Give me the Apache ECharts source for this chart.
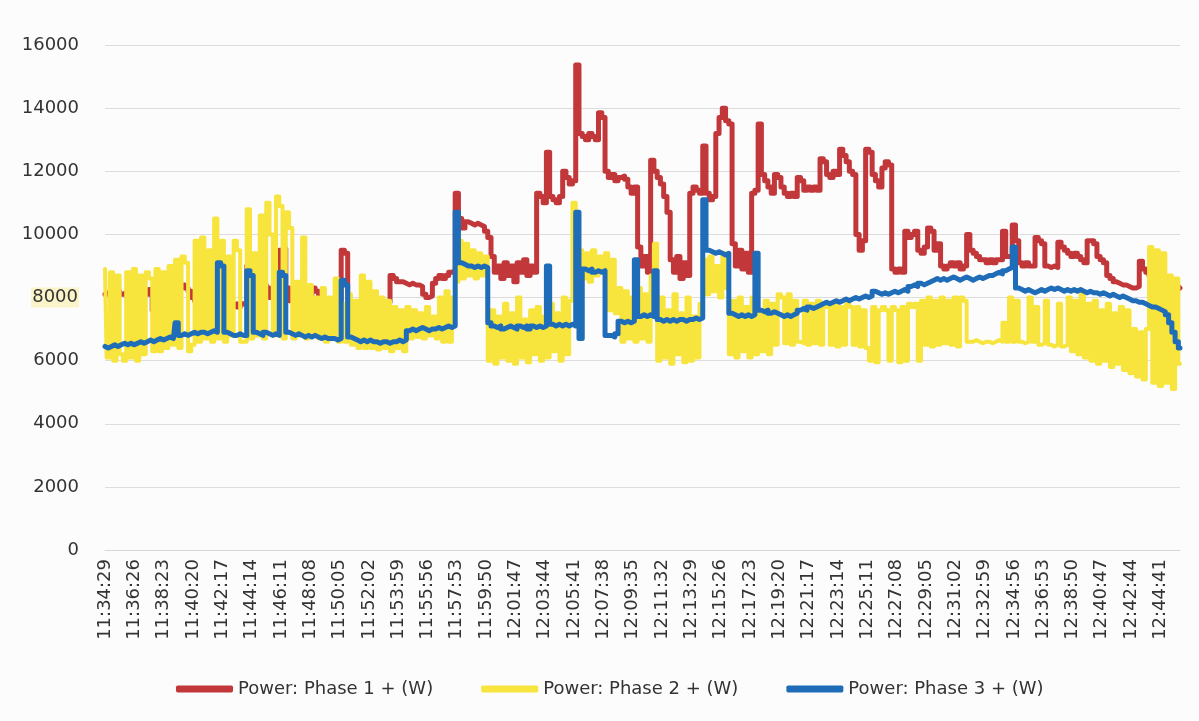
<!DOCTYPE html>
<html>
<head>
<meta charset="utf-8">
<script src="https://cdn.jsdelivr.net/npm/echarts@6/dist/echarts.min.js"></script>
<style>
html,body{margin:0;padding:0;background:#fcfcfd;}
#chart{width:1199px;height:721px;}
</style>
</head>
<body>
<div id="chart"></div>
<script>
// Sampling: one point every 13 s from 11:34:29; a tick label every 9 points (117 s)
const startTime = '11:34:29';
const stepSeconds = 13;
const tickLabels = ['11:34:29','11:36:26','11:38:23','11:40:20','11:42:17','11:44:14','11:46:11','11:48:08','11:50:05','11:52:02','11:53:59','11:55:56','11:57:53','11:59:50','12:01:47','12:03:44','12:05:41','12:07:38','12:09:35','12:11:32','12:13:29','12:15:26','12:17:23','12:19:20','12:21:17','12:23:14','12:25:11','12:27:08','12:29:05','12:31:02','12:32:59','12:34:56','12:36:53','12:38:50','12:40:47','12:42:44','12:44:41'];

const seriesNames = ['Power: Phase 1 + (W)', 'Power: Phase 2 + (W)', 'Power: Phase 3 + (W)'];

const phase1 = [
8100,8150,8050,8100,8200,8100,8150,8050,8100,8200,
8150,8100,8200,8100,8250,7600,8200,8150,8100,8200,
8300,8250,8350,8300,8400,8300,8200,8000,7900,7800,
7900,7800,8700,8600,8000,9100,9000,7900,7800,7750,
7800,7700,7800,7750,9000,8700,8100,8000,8200,8400,
8300,8000,8100,8000,9500,9550,8300,7900,7850,7900,
8100,8200,8100,8000,8300,8200,8100,7900,7800,7700,
7800,7750,7800,9500,9400,7900,7800,7850,7800,7900,
7850,7800,7900,7800,7850,7900,7800,7850,8700,8600,
8500,8500,8450,8400,8450,8400,8400,8350,8100,8000,
8050,8450,8600,8700,8600,8700,8800,8850,11300,10500,
10200,10400,10350,10300,10350,10300,10250,10100,9900,9300,
8800,9000,8600,9100,8700,9000,8500,9100,8800,9200,
8700,9000,8800,11300,11200,11000,12600,11200,11100,11000,
11200,12000,11800,11600,11700,15370,13200,13100,13000,13200,
13100,13000,13850,13700,12000,11800,11900,11700,11800,11850,
11750,11500,11300,11500,9600,9000,9300,8800,12350,12000,
11800,11600,11200,10700,9200,8800,9300,8600,9100,8700,
11300,11500,11400,11300,12800,11300,11100,11200,13200,13700,
14000,13600,13500,9700,9000,9500,8900,9400,8800,11300,
11400,13500,11900,11700,11500,11300,11900,11800,11500,11300,
11200,11300,11200,11800,11700,11400,11500,11400,11500,11400,
12400,12300,11900,11800,12000,11900,12700,12500,12300,12000,
11900,10000,9500,9800,12700,12600,11900,11700,11500,12100,
12300,12200,8900,8800,8900,8800,10100,9900,10000,10100,
9500,9400,9600,10200,10100,9500,9700,9000,8900,9000,
9100,9000,9100,8900,9000,10000,9500,9400,9300,9200,
9200,9100,9200,9100,9200,9200,10100,9300,9300,10300,
9800,9100,9000,9100,9000,9000,9900,9800,9700,9000,
8950,9000,8950,9750,9600,9500,9400,9300,9400,9300,
9200,9100,9800,9800,9700,9300,9200,9100,8700,8600,
8500,8450,8400,8400,8350,8300,8300,8350,9150,8900,
8800,8700,8600,8550,8500,8500,8450,8550,8400,8350,8300
];

const phase2 = [
8900,6100,8800,6000,8700,6200,6000,8800,6100,8900,
6000,8700,6200,8800,8600,6300,8900,6300,8800,6400,
9000,6500,9200,6400,9300,9100,6300,6500,9800,6600,
9900,6700,9500,6600,10500,6700,9800,6600,9300,6800,
9800,9500,6600,6600,10800,6700,9400,6800,10600,6700,
11000,10000,6800,11200,10900,6700,10700,10200,6700,8500,
6800,9900,6700,8400,6800,8000,6700,8300,6600,8000,
6700,8600,6600,7800,6600,8100,6500,7900,6400,8700,
6400,8500,6400,8200,6350,8000,6400,7900,6300,7700,
6400,7600,6300,7700,6700,7600,6750,7500,6700,7700,
6800,7400,6700,8000,6600,8200,6600,8000,8500,9800,
8600,9700,8700,9500,8600,9400,8700,9300,6000,7600,
5900,7400,6100,7800,6000,7500,5900,8000,6100,7300,
5950,7600,6200,7700,6000,7400,6100,7800,6300,7500,
6000,8000,6200,7900,11000,9000,9500,8600,9400,8500,
9500,8700,9300,8800,9400,7600,9200,7500,8300,6600,
8200,6700,8000,6600,8300,6700,8100,6600,8700,9700,
6000,8000,6100,7600,5900,8100,6200,7500,5950,8000,
6000,7400,6100,7800,9200,8100,9300,8200,9000,8000,
9400,8300,6200,7900,6100,8000,6300,7700,6100,8000,
6200,7600,6300,7900,6200,7800,6500,8100,8000,6550,
8100,6500,7900,6600,6550,7900,6500,7800,6550,7900,
6500,7800,7700,6500,7800,6450,7700,6500,7800,7700,
6500,7700,6450,7600,6400,6000,7700,5950,7600,7700,
7600,6000,7700,7600,5950,7700,6000,7800,7700,7800,
6000,7900,6500,8000,6450,7900,6500,8000,6550,7900,
6500,8000,6450,8000,7900,6600,6600,6650,6600,6550,
6600,6600,6550,6600,6650,6600,7200,6600,8000,6600,
7900,6600,6550,6600,8000,6600,7700,6500,6550,7900,
6500,6450,6500,7800,6450,6500,8000,6300,7900,6200,
8100,6100,7800,6000,7900,5900,7600,6000,7800,5800,
7500,5900,7700,5700,7600,5600,7000,5500,6900,5400,
7000,9600,5300,9500,5200,9400,5300,8700,5100,8600,5900
];

const phase3 = [
6450,6400,6450,6500,6450,6500,6550,6500,6550,6500,
6550,6600,6550,6600,6650,6600,6650,6700,6650,6700,
6750,6700,7200,6800,6850,6800,6850,6900,6850,6900,
6900,6850,6900,6950,6900,9100,9000,6900,6850,6800,
6800,6850,6800,6800,8850,8700,6900,6850,6800,6900,
6850,6800,6850,6800,8800,8700,6900,6850,6800,6850,
6800,6750,6800,6750,6800,6750,6700,6750,6700,6700,
6700,6650,6700,8550,8400,6750,6700,6650,6600,6650,
6600,6650,6600,6600,6550,6600,6600,6550,6600,6600,
6650,6600,6650,6950,7000,6950,7000,7050,7000,6950,
7000,7000,7050,7000,7050,7100,7050,7100,10700,9100,
9050,9000,9000,8950,9000,8950,9000,8950,7200,7100,
7050,7100,7000,7050,7100,7050,7000,7100,7050,7100,
7000,7100,7050,7100,7050,7100,9000,7150,7100,7150,
7100,7150,7100,7150,7100,10700,6700,8900,8850,8900,
8800,8850,8800,8850,6800,6800,6750,6850,7250,7200,
7250,7200,7250,9200,7400,7450,7400,7450,7400,8850,
7300,7250,7300,7250,7300,7250,7300,7300,7250,7300,
7300,7350,7300,7350,11100,9500,9450,9400,9450,9400,
9350,9400,7500,7450,7400,7450,7400,7450,7400,7450,
9400,7600,7550,7600,7500,7550,7500,7450,7400,7450,
7400,7450,7500,7600,7650,7600,7700,7650,7700,7750,
7800,7850,7800,7850,7900,7850,7900,7950,7900,7950,
8000,7950,8000,8050,8000,8050,8200,8150,8100,8150,
8100,8150,8200,8150,8200,8250,8200,8350,8400,8350,
8450,8400,8450,8500,8550,8600,8550,8600,8550,8600,
8650,8600,8550,8600,8650,8600,8550,8600,8650,8600,
8650,8700,8700,8750,8800,8750,8850,8900,8950,9600,
8300,8250,8200,8250,8200,8150,8200,8250,8200,8250,
8300,8250,8300,8250,8200,8250,8200,8250,8200,8250,
8200,8150,8200,8150,8150,8100,8150,8100,8050,8100,
8050,8000,8050,8000,7950,7900,7900,7850,7850,7800,
7750,7700,7700,7650,7600,7550,7450,7200,6900,6600,6400
];

const yTicks = {min: 0, max: 16000, interval: 2000};

// Build category times (tick labels every 9th category come from tickLabels)
function toSec(s){const p=s.split(':').map(Number);return p[0]*3600+p[1]*60+p[2];}
function fmt(t){const h=Math.floor(t/3600),m=Math.floor(t%3600/60),s=t%60;
  return String(h).padStart(2,'0')+':'+String(m).padStart(2,'0')+':'+String(s).padStart(2,'0');}
const nPts = Math.max(phase1.length, phase2.length, phase3.length);
const categories = [];
for (let i=0;i<nPts;i++){
  categories.push(i%9===0 && tickLabels[i/9] ? tickLabels[i/9] : fmt(toSec(startTime)+i*stepSeconds));
}

const FONT = 'DejaVu Sans';
const chart = echarts.init(document.getElementById('chart'), null, {renderer:'canvas'});
chart.setOption({
  animation: false,
  backgroundColor: '#fcfcfd',
  grid: {left: 105, right: 19, top: 45, bottom: 171, containLabel: false, outerBoundsMode: 'none'},
  legend: {
    left: 171, top: 675,
    icon: 'roundRect', itemWidth: 57, itemHeight: 7, itemGap: 48,
    textStyle: {fontFamily: FONT, fontSize: 18, color: '#333333'},
    data: seriesNames
  },
  xAxis: {
    type: 'category', data: categories, boundaryGap: false,
    axisLine: {show: true, lineStyle: {color: '#d6d6d6', width: 1}},
    axisTick: {show: false},
    axisLabel: {interval: 8, rotate: 90, margin: 9, fontFamily: FONT, fontSize: 18, color: '#333333'},
    splitLine: {show: false}
  },
  yAxis: {
    type: 'value', min: yTicks.min, max: yTicks.max, interval: yTicks.interval,
    axisLine: {show: false}, axisTick: {show: false},
    axisLabel: {
      margin: 26, fontFamily: FONT, fontSize: 18, color: '#333333',
      formatter: v => v === 8000 ? '{hl|' + v + '}' : String(v),
      rich: {hl: {backgroundColor: '#fbf4c8', fontFamily: FONT, fontSize: 18, color: '#333333', padding: [1, 1]}}
    },
    splitLine: {lineStyle: {color: '#dcdcdc', width: 1}}
  },
  series: [
    {name: seriesNames[0], type: 'line', data: phase1, symbol: 'none', step: 'middle', color: '#c2373a',
     lineStyle: {width: 5, color: '#c2373a', cap: 'round', join: 'round'}},
    {name: seriesNames[1], type: 'line', data: phase2, symbol: 'none', step: 'middle', color: '#f7e43c',
     lineStyle: {width: 4, color: '#f7e43c', cap: 'round', join: 'round'}},
    {name: seriesNames[2], type: 'line', data: phase3, symbol: 'none', step: 'middle', color: '#1f6cb8',
     lineStyle: {width: 5, color: '#1f6cb8', cap: 'round', join: 'round'}}
  ]
});
</script>
</body>
</html>
